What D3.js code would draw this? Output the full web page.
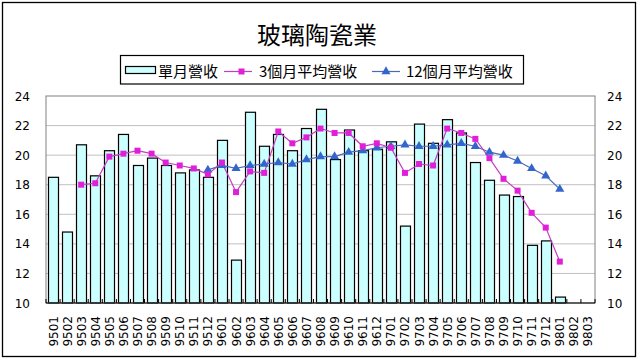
<!DOCTYPE html>
<html><head><meta charset="utf-8">
<script src="https://cdn.jsdelivr.net/npm/d3@7"></script>
<style>body{margin:0;background:#fff}svg{display:block}</style>
</head><body>
<svg id="c" width="640" height="360"></svg>
<script>
const categories = ["9501","9502","9503","9504","9505","9506","9507","9508","9509","9510","9511","9512",
  "9601","9602","9603","9604","9605","9606","9607","9608","9609","9610","9611","9612",
  "9701","9702","9703","9704","9705","9706","9707","9708","9709","9710","9711","9712",
  "9801","9802","9803"];
const monthly = [18.5,14.8,20.7,18.6,20.3,21.4,19.3,19.8,19.3,18.8,19.0,18.5,
  21.0,12.9,22.9,20.6,21.4,20.3,21.8,23.1,19.7,21.7,20.3,20.4,
  20.9,15.2,22.1,20.8,22.4,21.5,19.5,18.3,17.3,17.2,13.9,14.2,
  10.4,null,null];
const avg3 = [null,null,18.0,18.1,19.9,20.1,20.3,20.1,19.5,19.3,19.1,18.7,
  19.5,17.5,18.9,18.8,21.6,20.8,21.2,21.8,21.5,21.5,20.6,20.8,
  20.5,18.8,19.4,19.3,21.8,21.5,21.1,19.8,18.4,17.6,16.1,15.1,
  12.8,null,null];
const avg12 = [null,null,null,null,null,null,null,null,null,null,null,19.0,
  19.3,19.1,19.3,19.4,19.5,19.4,19.7,19.9,19.9,20.2,20.3,20.5,
  20.6,20.7,20.6,20.6,20.7,20.8,20.6,20.2,20.0,19.6,19.1,18.6,
  17.7,null,null];
const yTicks = [10,12,14,16,18,20,22,24];
const title = "玻璃陶瓷業";
const legendLabels = ["單月營收","3個月平均營收","12個月平均營收"];

const svg = d3.select("#c");
const L = 46, R = 595, T = 96, B = 303;
svg.append("rect").attr("x",2.5).attr("y",2.5).attr("width",633).attr("height",354)
  .attr("fill","#fff").attr("stroke","#000").attr("stroke-width",1.3);

const x = d3.scaleBand().domain(categories).range([L,R]).paddingInner(0.29).paddingOuter(0.145);
const y = d3.scaleLinear().domain([10,24]).range([B,T]);
const step = x.step();

// grid
svg.append("g").selectAll("line").data(yTicks.slice(1,-1)).join("line")
  .attr("x1",L).attr("x2",R).attr("y1",d=>y(d)).attr("y2",d=>y(d))
  .attr("stroke","#c0c0c0").attr("stroke-width",1);

// bars
svg.append("g").selectAll("rect").data(categories.map((c,i)=>({c,v:monthly[i]})).filter(d=>d.v!=null))
  .join("rect").attr("x",d=>Math.round(x(d.c))+0.5).attr("width",Math.round(x.bandwidth()))
  .attr("y",d=>y(d.v)).attr("height",d=>y(10)-y(d.v))
  .attr("fill","#ccffff").attr("stroke","#000").attr("stroke-width",1.2);

// plot border
svg.append("rect").attr("x",L).attr("y",T).attr("width",R-L).attr("height",B-T)
  .attr("fill","none").attr("stroke","#808080").attr("stroke-width",1);
svg.append("line").attr("x1",L).attr("x2",R).attr("y1",B).attr("y2",B).attr("stroke","#000").attr("stroke-width",1.2);

// category ticks
svg.append("g").selectAll("line").data(d3.range(categories.length+1)).join("line")
  .attr("x1",i=>L+i*step).attr("x2",i=>L+i*step).attr("y1",B).attr("y2",B-4)
  .attr("stroke","#000");

const cx = c => x(c)+x.bandwidth()/2;
const line = d3.line().defined(d=>d.v!=null).x(d=>cx(d.c)).y(d=>y(d.v));

const s3 = categories.map((c,i)=>({c,v:avg3[i]}));
const s12 = categories.map((c,i)=>({c,v:avg12[i]}));
svg.append("path").datum(s12).attr("d",line).attr("fill","none").attr("stroke","#4a6ab8").attr("stroke-width",1.2);
svg.append("path").datum(s3).attr("d",line).attr("fill","none").attr("stroke","#c040c0").attr("stroke-width",1.2);

const tri = d3.symbol().type(d3.symbolTriangle).size(36);
svg.append("g").selectAll("path").data(s12.filter(d=>d.v!=null)).join("path")
  .attr("d",tri).attr("transform",d=>`translate(${cx(d.c)},${y(d.v)})`).attr("fill","#3366cc");
svg.append("g").selectAll("rect").data(s3.filter(d=>d.v!=null)).join("rect")
  .attr("x",d=>cx(d.c)-3).attr("y",d=>y(d.v)-3).attr("width",6).attr("height",6).attr("fill","#e020d8");

// y labels
const fnt = "DejaVu Sans, Verdana, sans-serif";
svg.append("g").selectAll("text").data(yTicks).join("text")
  .attr("x",30).attr("y",d=>y(d)+4.5).attr("text-anchor","end")
  .attr("font-family",fnt).attr("font-size",12).text(d=>d);
svg.append("g").selectAll("text").data(yTicks).join("text")
  .attr("x",607).attr("y",d=>y(d)+4.5).attr("text-anchor","start")
  .attr("font-family",fnt).attr("font-size",12).text(d=>d);

// x labels
svg.append("g").selectAll("text").data(categories).join("text")
  .attr("transform",d=>`translate(${cx(d)+4.5},316) rotate(-90)`).attr("text-anchor","end")
  .attr("font-family",fnt).attr("font-size",12).text(d=>d);

// title
svg.append("text").attr("x",317).attr("y",44).attr("text-anchor","middle")
  .attr("font-family","Noto Sans CJK TC, sans-serif").attr("font-size",24).text(title);

// legend
const lg = svg.append("g");
lg.append("rect").attr("x",120.5).attr("y",55.5).attr("width",403).attr("height",28.5)
  .attr("fill","#fff").attr("stroke","#000").attr("stroke-width",1.2);
const lf = "Noto Sans CJK TC, sans-serif";
lg.append("rect").attr("x",125.5).attr("y",66.5).attr("width",30).attr("height",7)
  .attr("fill","#ccffff").attr("stroke","#000").attr("stroke-width",1.2);
lg.append("text").attr("x",158).attr("y",77).attr("font-family",lf).attr("font-size",15).text(legendLabels[0]);
lg.append("line").attr("x1",224).attr("x2",252).attr("y1",71.5).attr("y2",71.5).attr("stroke","#c040c0").attr("stroke-width",1.2);
lg.append("rect").attr("x",238.5).attr("y",68.5).attr("width",6).attr("height",6).attr("fill","#e020d8");
lg.append("text").attr("x",259).attr("y",77).attr("font-family",lf).attr("font-size",15).text(legendLabels[1]);
lg.append("line").attr("x1",372).attr("x2",400).attr("y1",71.5).attr("y2",71.5).attr("stroke","#4a6ab8").attr("stroke-width",1.2);
lg.append("path").attr("d",tri).attr("transform","translate(386,71.5)").attr("fill","#3366cc");
lg.append("text").attr("x",406).attr("y",77).attr("font-family",lf).attr("font-size",15).text(legendLabels[2]);
</script>
</body></html>
